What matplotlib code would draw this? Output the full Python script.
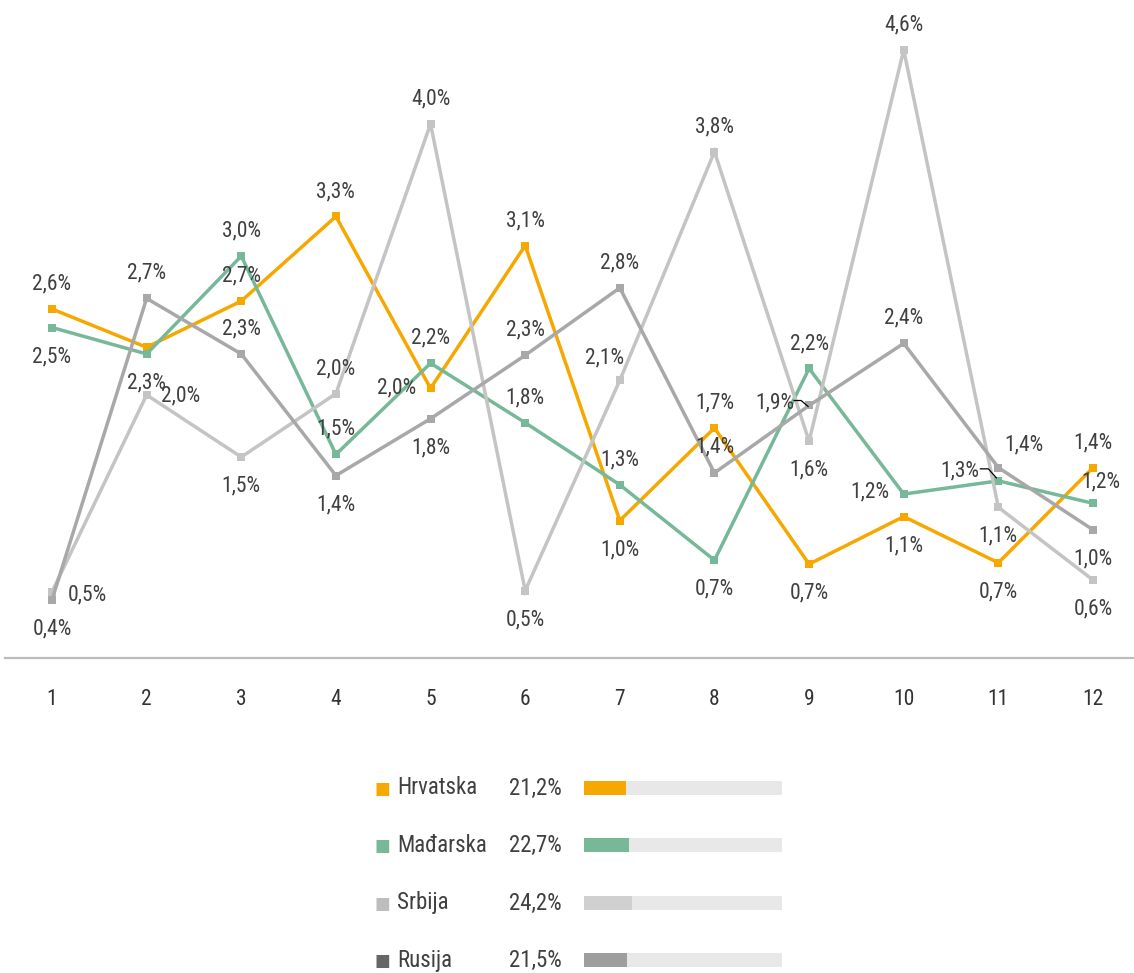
import matplotlib
matplotlib.use("Agg")
import matplotlib.pyplot as plt
from matplotlib.lines import Line2D

plt.rcParams['font.family'] = ['Roboto Condensed', 'Roboto', 'DejaVu Sans']

# ---- data -------------------------------------------------------------
months = [1, 2, 3, 4, 5, 6, 7, 8, 9, 10, 11, 12]
countries = ["Hrvatska", "Mađarska", "Srbija", "Rusija"]

hrvatska = [2.64, 2.35, 2.70, 3.34, 2.04, 3.12, 1.04, 1.74, 0.71, 1.07, 0.72, 1.44]
madjarska = [2.50, 2.30, 3.04, 1.54, 2.23, 1.78, 1.31, 0.74, 2.19, 1.24, 1.34, 1.17]
srbija = [0.50, 1.99, 1.52, 2.00, 4.04, 0.51, 2.10, 3.83, 1.64, 4.60, 1.14, 0.59]
rusija = [0.44, 2.72, 2.30, 1.38, 1.81, 2.29, 2.80, 1.40, 1.91, 2.38, 1.44, 0.97]

totals = [21.2, 22.7, 24.2, 21.5]

# ---- styling ----------------------------------------------------------
line_colors = ["#F7A800", "#76B898", "#C4C4C4", "#A8A8A8"]
legend_marker_colors = ["#F7A800", "#76B898", "#BDBDBD", "#666666"]
legend_bar_colors = ["#F7A800", "#76B898", "#D0D0D0", "#9E9E9E"]
text_color = "#404040"

# label placement per point: (dx, dy) in pixels from marker, None = no label
T, B = (0, 25), (0, -29)
label_pos = [
    [T, None, T, T, (-34, 0), T, B, T, B, B, B, T],
    [B, B, T, T, T, T, T, B, T, (-34, 2), (-39, 10), (8, 21)],
    [(35, -3), (34, -1), B, T, T, B, (-15, 22), T, B, T, B, B],
    [B, T, T, B, B, T, T, (0, 26), (-34, 3), T, (26, 23), B],
]
# leader lines: (series, index, list of pixel offsets from marker)
leaders = [
    (3, 8, [(-15, 5), (-8, 5), (-1, -1)]),
    (1, 10, [(-18, 12), (-10, 12), (-2, 3)]),
]

W, H = 1134, 973
fig = plt.figure(figsize=(W / 100, H / 100), dpi=100)

# main line chart
ax = fig.add_axes([5 / W, (H - 658) / H, 1129 / W, 658 / H])
ax.set_xlim(1 - 47 / 94.64, 12 + 41 / 94.64)
ax.set_ylim(0, 658 / 132.2)

series = [hrvatska, madjarska, srbija, rusija]
for vals, col in zip(series, line_colors):
    ax.plot(months, vals, color=col, lw=2.5, marker="s", ms=6,
            markeredgewidth=0, solid_joinstyle="miter", zorder=3)

for vals, positions in zip(series, label_pos):
    for m, v, pos in zip(months, vals, positions):
        if pos is None:
            continue
        ax.annotate(f"{v:.1f}%".replace(".", ","), (m, v), xytext=pos,
                    textcoords="offset pixels", ha="center", va="center",
                    fontsize=15.5, color=text_color, zorder=5)

for si, idx, pts in leaders:
    x0, y0 = ax.transData.transform((months[idx], series[si][idx]))
    xs = [x0 + dx for dx, dy in pts]
    ys = [y0 + dy for dx, dy in pts]
    fig.add_artist(Line2D(xs, ys, transform=None, color="black", lw=0.9,
                          zorder=6))

for s in ["top", "right", "left"]:
    ax.spines[s].set_visible(False)
ax.spines["bottom"].set_color("#BDBDBD")
ax.spines["bottom"].set_linewidth(1.6)
ax.set_yticks([])
ax.set_xticks(months)
ax.set_xticklabels([str(m) for m in months])
ax.tick_params(axis="x", length=0, pad=22, labelsize=15.5, labelcolor="#333333")

# legend with totals and progress bars
row_y = [788, 845, 903, 960]
for name, tot, mcol, bcol, y in zip(countries, totals, legend_marker_colors,
                                    legend_bar_colors, row_y):
    fig.text(375 / W, 1 - (y + 1) / H, "\u25A0", color=mcol, fontsize=12,
             ha="left", va="center", family=["DejaVu Sans"])
    fig.text(397 / W, 1 - y / H, name, color=text_color, fontsize=16.5,
             ha="left", va="center")
    fig.text(509 / W, 1 - y / H, f"{tot:.1f}%".replace(".", ","),
             color=text_color, fontsize=16.5, ha="left", va="center")
    bax = fig.add_axes([584 / W, 1 - (y + 7) / H, 198 / W, 14 / H])
    bax.set_xlim(0, 100)
    bax.set_ylim(-0.5, 0.5)
    bax.barh([0], [100], height=1, color="#E8E8E8")
    bax.barh([0], [tot], height=1, color=bcol)
    bax.axis("off")

fig.savefig("out.png", dpi=100)
